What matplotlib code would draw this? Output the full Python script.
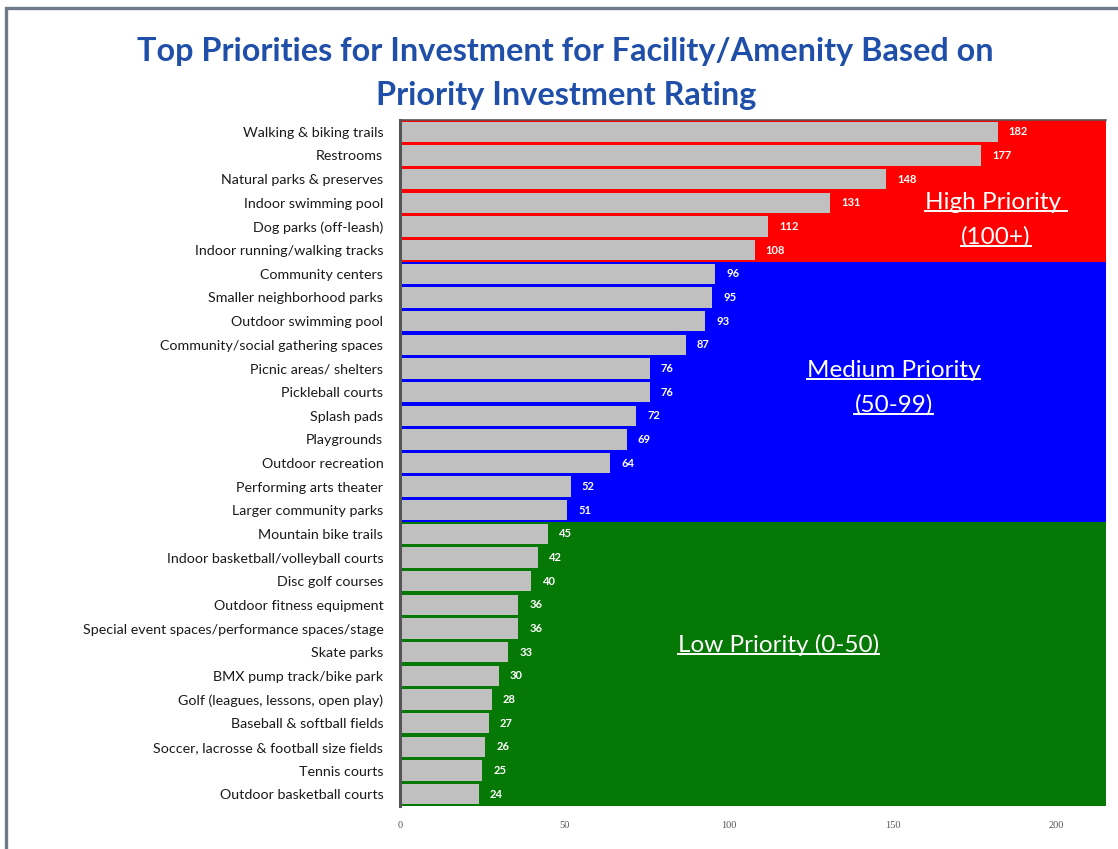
import matplotlib
matplotlib.use("Agg")
import matplotlib.pyplot as plt
from matplotlib.lines import Line2D
from matplotlib.patches import Rectangle

categories = [
    "Walking & biking trails", "Restrooms", "Natural parks & preserves",
    "Indoor swimming pool", "Dog parks (off-leash)", "Indoor running/walking tracks",
    "Community centers", "Smaller neighborhood parks", "Outdoor swimming pool",
    "Community/social gathering spaces", "Picnic areas/ shelters", "Pickleball courts",
    "Splash pads", "Playgrounds", "Outdoor recreation", "Performing arts theater",
    "Larger community parks", "Mountain bike trails",
    "Indoor basketball/volleyball courts", "Disc golf courses",
    "Outdoor fitness equipment", "Special event spaces/performance spaces/stage",
    "Skate parks", "BMX pump track/bike park", "Golf (leagues, lessons, open play)",
    "Baseball & softball fields", "Soccer, lacrosse & football size fields",
    "Tennis courts", "Outdoor basketball courts",
]
ratings = [182, 177, 148, 131, 112, 108, 96, 95, 93, 87, 76, 76, 72, 69, 64,
           52, 51, 45, 42, 40, 36, 36, 33, 30, 28, 27, 26, 25, 24]
tier_names = ["High Priority ", "(100+)", "Medium Priority", "(50-99)", "Low Priority (0-50)"]
x_ticks = [0, 50, 100, 150, 200]

RED, BLUE, GREEN = "#ff0000", "#0000ff", "#067806"
GRAY = "#c0c0c0"
XMAX = 215

def tier_color(v):
    if v >= 100:
        return RED
    if v > 50:
        return BLUE
    return GREEN

fig = plt.figure(figsize=(11.18, 8.49), dpi=100)
ax = fig.add_axes([400 / 1118, 1 - 806 / 849, 706 / 1118, 686 / 849])

ypos = list(range(len(categories)))
# full-width tier background behind every row
ax.barh(ypos, [XMAX] * len(ratings), height=1.0,
        color=[tier_color(v) for v in ratings], linewidth=0, zorder=1)
# rating bars
ax.barh(ypos, ratings, height=0.86, color=GRAY, linewidth=0, zorder=2)

for y, v in zip(ypos, ratings):
    ax.annotate(str(v), (v, y), xytext=(8, 0), textcoords="offset points",
                ha="left", va="center", fontsize=8, fontweight="bold",
                color="white", family="Lato", zorder=3)

ax.set_xlim(0, XMAX)
ax.set_ylim(len(categories) - 0.5, -0.5)
ax.set_yticks(ypos)
ax.set_yticklabels(categories, fontsize=10.3, family="Lato", color="#1a1a1a")
ax.set_xticks(x_ticks)
ax.set_xticklabels([str(t) for t in x_ticks], fontsize=7.5, color="#555555",
                   family="Liberation Serif")
ax.tick_params(axis="y", length=0, pad=12)
ax.tick_params(axis="x", length=0, pad=11)
for s in ["right", "bottom"]:
    ax.spines[s].set_visible(False)
ax.spines["left"].set_color("#555555")
ax.spines["left"].set_linewidth(2.2)
ax.spines["top"].set_color("#555555")
ax.spines["top"].set_linewidth(1.2)
ax.spines["left"].set_zorder(4)

# tier captions
caption_pos = [(181.5, 3.0), (181.5, 4.45), (150.3, 10.07), (150.3, 11.55), (115.2, 21.7)]
tier_texts = [
    ax.text(x, y, name, ha="center", va="center", fontsize=17.5,
            color="white", family="Lato", zorder=3)
    for name, (x, y) in zip(tier_names, caption_pos)
]

fig.text(0.506, 1 - 52 / 849, "Top Priorities for Investment for Facility/Amenity Based on",
         ha="center", va="center", fontsize=23.3, fontweight="bold", color="#1f4fa8",
         family="Lato")
fig.text(0.506, 1 - 95 / 849, "Priority Investment Rating",
         ha="center", va="center", fontsize=23.3, fontweight="bold", color="#1f4fa8",
         family="Lato")

# outer frame
fig.patches.append(Rectangle((6 / 1118, -0.01), 1.1, 1 - 8 / 849 + 0.01,
                             transform=fig.transFigure, fill=False,
                             edgecolor="#6f7a8a", linewidth=2.4))

# underline the tier captions
fig.canvas.draw()
renderer = fig.canvas.get_renderer()
inv = fig.transFigure.inverted()
for t in tier_texts:
    bb = t.get_window_extent(renderer)
    (x0, y0), (x1, _) = inv.transform([(bb.x0, bb.y0 + 2), (bb.x1, bb.y0 + 2)])
    fig.lines.append(Line2D([x0, x1], [y0, y0], transform=fig.transFigure,
                            color="white", linewidth=1.4))

fig.savefig("out.png", dpi=100)
